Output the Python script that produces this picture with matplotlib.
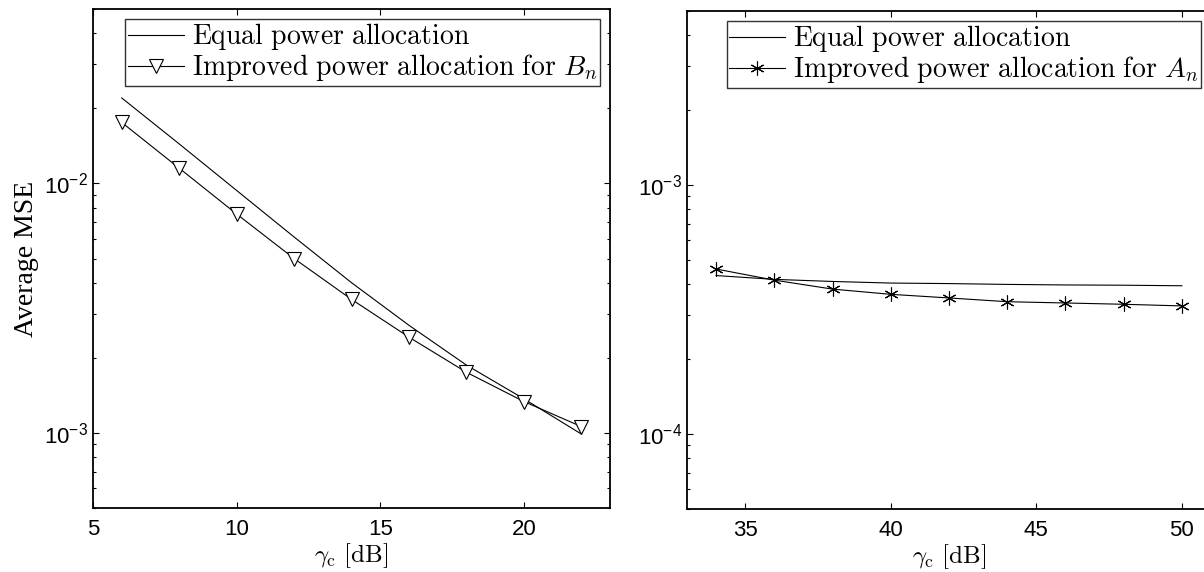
import matplotlib
matplotlib.use("Agg")
import matplotlib.pyplot as plt
import numpy as np
from matplotlib.ticker import LogLocator, NullFormatter, FixedLocator

plt.rcParams['mathtext.fontset'] = 'custom'
plt.rcParams['mathtext.rm'] = 'Liberation Sans'
plt.rcParams['mathtext.it'] = 'Liberation Sans:italic'
plt.rcParams['font.family'] = 'Liberation Sans'

# left panel: SNR grid and average MSE
snr_left = [6, 8, 10, 12, 14, 16, 18, 20, 22]
mse_equal_left = [0.0220, 0.0144, 0.00937, 0.0061, 0.0040, 0.0027, 0.00187, 0.00137, 0.00099]
mse_improved_b = [0.01755, 0.01151, 0.00754, 0.00500, 0.00343, 0.00242, 0.00175, 0.001336, 0.00106]

# right panel
snr_right = [34, 36, 38, 40, 42, 44, 46, 48, 50]
mse_equal_right = [4.33e-4, 4.18e-4, 4.10e-4, 4.04e-4, 4.02e-4, 3.99e-4, 3.97e-4, 3.96e-4, 3.94e-4]
mse_improved_a = [4.60e-4, 4.15e-4, 3.82e-4, 3.64e-4, 3.52e-4, 3.40e-4, 3.36e-4, 3.32e-4, 3.27e-4]

label_equal = r'$\mathrm{Equal\ power\ allocation}$'
label_b = r'$\mathrm{Improved\ power\ allocation\ for\ }B_n$'
label_a = r'$\mathrm{Improved\ power\ allocation\ for\ }A_n$'
xlabel = r'$\gamma_\mathrm{c}\ \mathrm{[dB]}$'

fig = plt.figure(figsize=(12.04, 5.72), dpi=100)
ax1 = fig.add_axes([93 / 1204, 64 / 572, 517 / 1204, 499 / 572])
ax2 = fig.add_axes([687 / 1204, 63 / 572, 524 / 1204, 498 / 572])


def style_axes(ax, xticks, xlim, ylim):
    ax.set_yscale('log')
    ax.set_xlim(*xlim)
    ax.set_ylim(*ylim)
    ax.xaxis.set_major_locator(FixedLocator(xticks))
    ax.yaxis.set_major_locator(LogLocator(base=10))
    ax.yaxis.set_minor_locator(LogLocator(base=10, subs=np.arange(2, 10)))
    ax.yaxis.set_minor_formatter(NullFormatter())
    ax.tick_params(which='both', direction='in', top=True, right=True, labelsize=16, width=0.8)
    ax.tick_params(which='major', length=4.5)
    ax.tick_params(which='minor', length=2.5)
    ax.tick_params(axis='x', pad=8)
    for s in ax.spines.values():
        s.set_linewidth(1.3)
    ax.set_xlabel(xlabel, fontsize=18, math_fontfamily='cm', labelpad=1)


ax1.plot(snr_left, mse_equal_left, '-', color='k', linewidth=0.8, label=label_equal)
ax1.plot(snr_left, mse_improved_b, '-', color='k', linewidth=0.8, marker='v',
         markersize=10, markerfacecolor='white', markeredgecolor='k', markeredgewidth=0.8,
         label=label_b)
style_axes(ax1, [5, 10, 15, 20], (5, 23), (5e-4, 5e-2))
ax1.set_ylabel('Average MSE', fontsize=20, family='Liberation Serif', labelpad=4)

ax2.plot(snr_right, mse_equal_right, '-', color='k', linewidth=0.8, label=label_equal)
ax2.plot(snr_right, mse_improved_a, '-', color='k', linewidth=0.8, marker=(6, 2, 0),
         markersize=10, markeredgecolor='k', markeredgewidth=0.8, label=label_a)
style_axes(ax2, [35, 40, 45, 50], (33, 51), (5e-5, 5e-3))

for ax in (ax1, ax2):
    leg = ax.legend(loc='upper right', fontsize=20, frameon=True, fancybox=False,
                    edgecolor='k', borderpad=0.1, labelspacing=0.0, handlelength=2.0,
                    handletextpad=0.3, borderaxespad=0.35)
    leg.get_frame().set_linewidth(1.0)
    for t in leg.get_texts():
        t.set_math_fontfamily('cm')

fig.savefig('out.png', dpi=100)
